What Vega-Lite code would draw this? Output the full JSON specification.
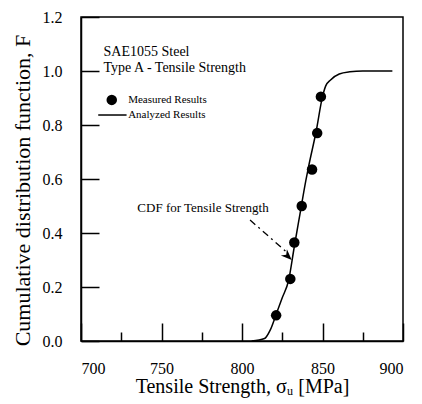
{
  "$schema": "https://vega.github.io/schema/vega-lite/v6.json",
  "width": 322,
  "height": 324,
  "autosize": "none",
  "padding": {"left": 81, "top": 17, "right": 19, "bottom": 63},
  "background": "white",
  "config": {
    "view": {"stroke": "black", "strokeWidth": 1.5},
    "font": "Liberation Serif",
    "axis": {
      "domainColor": "black",
      "domainWidth": 1.5,
      "tickColor": "black",
      "tickWidth": 1.5,
      "grid": false,
      "labelFont": "Liberation Serif",
      "labelFontSize": 16,
      "labelColor": "black",
      "titleFont": "Liberation Serif",
      "titleFontWeight": "normal",
      "titleColor": "black"
    }
  },
  "datasets": {
    "curve": [
      {"s": 806, "F": 0},
      {"s": 814, "F": 0.009},
      {"s": 817.5, "F": 0.04},
      {"s": 821, "F": 0.095},
      {"s": 825, "F": 0.16},
      {"s": 829, "F": 0.226},
      {"s": 832.5, "F": 0.35},
      {"s": 836, "F": 0.47},
      {"s": 839.7, "F": 0.596},
      {"s": 841.5, "F": 0.65},
      {"s": 846, "F": 0.775},
      {"s": 850, "F": 0.905},
      {"s": 852, "F": 0.945},
      {"s": 855, "F": 0.967},
      {"s": 860.4, "F": 0.989},
      {"s": 867, "F": 0.997},
      {"s": 875, "F": 1.0},
      {"s": 893.4, "F": 1.0}
    ],
    "measured": [
      {"s": 821.2, "F": 0.095},
      {"s": 830.0, "F": 0.23},
      {"s": 832.5, "F": 0.365},
      {"s": 837.1, "F": 0.5},
      {"s": 843.5, "F": 0.635},
      {"s": 846.7, "F": 0.77},
      {"s": 849.0, "F": 0.905}
    ]
  },
  "layer": [
    {
      "data": {"name": "curve"},
      "mark": {"type": "line", "color": "black", "strokeWidth": 1.5, "interpolate": "monotone"},
      "encoding": {
        "x": {
          "field": "s", "type": "quantitative",
          "scale": {"domain": [700, 900], "nice": false},
          "axis": {
            "values": [700, 725, 750, 775, 800, 825, 850, 875, 900],
            "labelExpr": "datum.value % 50 === 0 ? datum.label : ''",
            "tickSize": {"condition": {"test": "datum.value % 50 === 0", "value": -18}, "value": -9},
            "labelPadding": 37,
            "title": "Tensile Strength, σᵤ [MPa]",
            "titleFontSize": 20,
            "titlePadding": 0
          }
        },
        "y": {
          "field": "F", "type": "quantitative",
          "scale": {"domain": [0, 1.2], "nice": false},
          "axis": {
            "values": [0, 0.1, 0.2, 0.3, 0.4, 0.5, 0.6, 0.7, 0.8, 0.9, 1.0, 1.1, 1.2],
            "labelExpr": "round(datum.value * 10) % 2 === 0 ? format(datum.value, '.1f') : ''",
            "tickSize": {"condition": {"test": "round(datum.value * 10) % 2 === 0", "value": -18}, "value": -9},
            "labelPadding": 37,
            "title": "Cumulative distribution function, F",
            "titleFontSize": 22,
            "titleBaseline": "middle",
            "titleAlign": "center",
            "titleAngle": -90,
            "titleX": -59,
            "titleY": 173
          }
        }
      }
    },
    {
      "data": {"name": "measured"},
      "mark": {"type": "point", "filled": true, "color": "black", "size": 110, "opacity": 1},
      "encoding": {
        "x": {"field": "s", "type": "quantitative"},
        "y": {"field": "F", "type": "quantitative"}
      }
    },
    {
      "data": {"values": [{"s": 714, "F": 1.071, "t": "SAE1055 Steel"}, {"s": 714, "F": 1.01, "t": "Type A - Tensile Strength"}]},
      "mark": {"type": "text", "align": "left", "baseline": "middle", "fontSize": 14, "font": "Liberation Serif", "color": "black"},
      "encoding": {
        "x": {"field": "s", "type": "quantitative"},
        "y": {"field": "F", "type": "quantitative"},
        "text": {"field": "t"}
      }
    },
    {
      "data": {"values": [{"s": 729.3, "F": 0.893, "t": "Measured Results"}, {"s": 729.3, "F": 0.837, "t": "Analyzed Results"}]},
      "mark": {"type": "text", "align": "left", "baseline": "middle", "fontSize": 11, "font": "Liberation Serif", "color": "black"},
      "encoding": {
        "x": {"field": "s", "type": "quantitative"},
        "y": {"field": "F", "type": "quantitative"},
        "text": {"field": "t"}
      }
    },
    {
      "data": {"values": [{"s": 719.1, "F": 0.893}]},
      "mark": {"type": "point", "filled": true, "color": "black", "size": 110, "opacity": 1},
      "encoding": {
        "x": {"field": "s", "type": "quantitative"},
        "y": {"field": "F", "type": "quantitative"}
      }
    },
    {
      "data": {"values": [{"s": 710.7, "s2": 728.3, "F": 0.837}]},
      "mark": {"type": "rule", "color": "black", "strokeWidth": 1.5},
      "encoding": {
        "x": {"field": "s", "type": "quantitative"},
        "x2": {"field": "s2"},
        "y": {"field": "F", "type": "quantitative"}
      }
    },
    {
      "data": {"values": [{"s": 735, "F": 0.493, "t": "CDF for Tensile Strength"}]},
      "mark": {"type": "text", "align": "left", "baseline": "middle", "fontSize": 13, "font": "Liberation Serif", "color": "black"},
      "encoding": {
        "x": {"field": "s", "type": "quantitative"},
        "y": {"field": "F", "type": "quantitative"},
        "text": {"field": "t"}
      }
    },
    {
      "data": {"values": [{"s": 805, "F": 0.448, "s2": 827, "F2": 0.333}]},
      "mark": {"type": "rule", "color": "black", "strokeWidth": 1.3, "strokeDash": [7, 4, 2, 4]},
      "encoding": {
        "x": {"field": "s", "type": "quantitative"},
        "y": {"field": "F", "type": "quantitative"},
        "x2": {"field": "s2"},
        "y2": {"field": "F2"}
      }
    },
    {
      "data": {"values": [{"s": 830.9, "F": 0.30}]},
      "mark": {"type": "point", "filled": true, "color": "black", "opacity": 1, "size": 480, "angle": 134, "shape": "M0,0 L-0.4,1 L0,0.7 L0.4,1 Z"},
      "encoding": {
        "x": {"field": "s", "type": "quantitative"},
        "y": {"field": "F", "type": "quantitative"}
      }
    }
  ]
}
